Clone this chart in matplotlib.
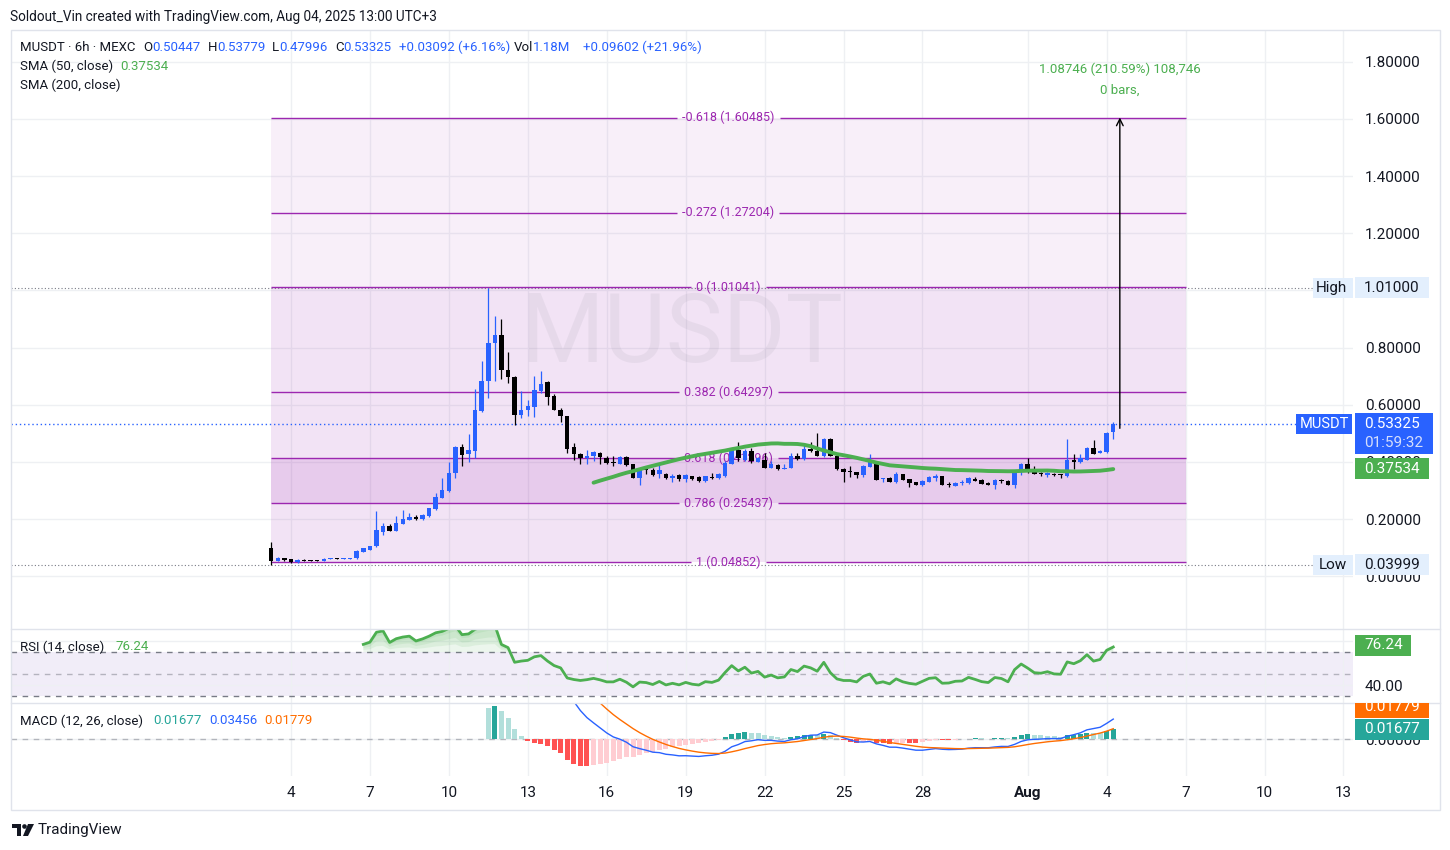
import numpy as np
import pandas as pd
import matplotlib
matplotlib.use('Agg')
import matplotlib.pyplot as plt
import matplotlib.dates as mdates
from matplotlib.ticker import FormatStrFormatter, FuncFormatter
from matplotlib.patches import Rectangle, Polygon, Circle

plt.rcParams['font.family'] = ['Roboto', 'DejaVu Sans']

W, H = 1450, 850

# MUSDT 6h candles (MEXC)
start_time = '2025-07-03 06:00'
opens = [
    0.100, 0.054, 0.062, 0.060, 0.048, 0.056, 0.055, 0.055, 0.054, 0.060,
    0.062, 0.061, 0.061, 0.062, 0.085, 0.092, 0.104, 0.155, 0.176, 0.159,
    0.184, 0.197, 0.207, 0.199, 0.211, 0.234, 0.275, 0.298, 0.360, 0.452,
    0.426, 0.438, 0.577, 0.682, 0.816, 0.845, 0.722, 0.698, 0.563, 0.581,
    0.591, 0.649, 0.678, 0.629, 0.583, 0.560, 0.451, 0.429, 0.414, 0.422,
    0.432, 0.414, 0.400, 0.393, 0.418, 0.391, 0.342, 0.376, 0.373, 0.356,
    0.356, 0.344, 0.353, 0.339, 0.349, 0.347, 0.333, 0.348, 0.342, 0.350,
    0.393, 0.441, 0.408, 0.437, 0.401, 0.405, 0.379, 0.390, 0.376, 0.379,
    0.422, 0.411, 0.446, 0.437, 0.420, 0.480, 0.420, 0.376, 0.368, 0.364,
    0.353, 0.382, 0.397, 0.341, 0.342, 0.329, 0.356, 0.339, 0.329, 0.318,
    0.330, 0.342, 0.350, 0.322, 0.315, 0.326, 0.325, 0.339, 0.335, 0.327,
    0.319, 0.335, 0.333, 0.319, 0.364, 0.391, 0.368, 0.362, 0.354, 0.359,
    0.356, 0.350, 0.408, 0.399, 0.408, 0.449, 0.432, 0.434, 0.50447,
]
highs = [
    0.118, 0.068, 0.064, 0.061, 0.060, 0.060, 0.057, 0.056, 0.062, 0.063,
    0.063, 0.063, 0.064, 0.090, 0.100, 0.106, 0.228, 0.185, 0.182, 0.211,
    0.231, 0.222, 0.213, 0.217, 0.240, 0.290, 0.342, 0.399, 0.455, 0.461,
    0.496, 0.656, 0.752, 1.010, 0.909, 0.900, 0.786, 0.700, 0.649, 0.616,
    0.702, 0.719, 0.682, 0.639, 0.590, 0.562, 0.467, 0.432, 0.443, 0.437,
    0.434, 0.420, 0.420, 0.420, 0.422, 0.392, 0.379, 0.385, 0.379, 0.391,
    0.360, 0.356, 0.356, 0.356, 0.352, 0.349, 0.352, 0.360, 0.360, 0.403,
    0.443, 0.470, 0.446, 0.449, 0.418, 0.432, 0.403, 0.392, 0.391, 0.432,
    0.432, 0.467, 0.469, 0.502, 0.484, 0.484, 0.424, 0.378, 0.385, 0.366,
    0.389, 0.426, 0.399, 0.345, 0.348, 0.364, 0.358, 0.341, 0.331, 0.338,
    0.349, 0.356, 0.352, 0.329, 0.330, 0.336, 0.348, 0.348, 0.341, 0.329,
    0.339, 0.339, 0.335, 0.368, 0.397, 0.412, 0.385, 0.365, 0.365, 0.361,
    0.358, 0.481, 0.426, 0.426, 0.453, 0.478, 0.443, 0.504, 0.53779,
]
lows = [
    0.03999, 0.052, 0.054, 0.046, 0.046, 0.053, 0.053, 0.053, 0.053, 0.059,
    0.060, 0.060, 0.060, 0.061, 0.084, 0.091, 0.102, 0.144, 0.158, 0.157,
    0.182, 0.195, 0.197, 0.197, 0.208, 0.232, 0.273, 0.296, 0.342, 0.385,
    0.399, 0.414, 0.575, 0.624, 0.682, 0.690, 0.676, 0.528, 0.552, 0.560,
    0.556, 0.641, 0.600, 0.580, 0.540, 0.432, 0.408, 0.391, 0.391, 0.403,
    0.391, 0.394, 0.385, 0.391, 0.387, 0.342, 0.318, 0.356, 0.350, 0.345,
    0.339, 0.329, 0.333, 0.329, 0.338, 0.331, 0.331, 0.341, 0.341, 0.348,
    0.391, 0.403, 0.403, 0.397, 0.399, 0.379, 0.377, 0.372, 0.375, 0.377,
    0.408, 0.408, 0.435, 0.420, 0.418, 0.420, 0.372, 0.329, 0.348, 0.342,
    0.348, 0.381, 0.336, 0.329, 0.329, 0.327, 0.335, 0.312, 0.318, 0.315,
    0.328, 0.333, 0.319, 0.313, 0.314, 0.318, 0.324, 0.332, 0.321, 0.318,
    0.304, 0.327, 0.318, 0.310, 0.353, 0.362, 0.356, 0.350, 0.348, 0.352,
    0.344, 0.348, 0.376, 0.397, 0.406, 0.428, 0.431, 0.432, 0.47996,
]
closes = [
    0.054, 0.063, 0.057, 0.048, 0.056, 0.054, 0.054, 0.054, 0.060, 0.062,
    0.061, 0.061, 0.062, 0.089, 0.097, 0.104, 0.162, 0.176, 0.159, 0.185,
    0.199, 0.207, 0.199, 0.214, 0.238, 0.278, 0.300, 0.362, 0.452, 0.424,
    0.440, 0.583, 0.684, 0.816, 0.845, 0.720, 0.696, 0.563, 0.583, 0.595,
    0.653, 0.674, 0.626, 0.583, 0.560, 0.446, 0.426, 0.414, 0.422, 0.434,
    0.418, 0.397, 0.397, 0.417, 0.389, 0.342, 0.376, 0.371, 0.353, 0.373,
    0.342, 0.352, 0.339, 0.353, 0.339, 0.333, 0.350, 0.345, 0.356, 0.397,
    0.441, 0.412, 0.437, 0.403, 0.414, 0.379, 0.391, 0.374, 0.379, 0.422,
    0.411, 0.446, 0.437, 0.420, 0.480, 0.420, 0.376, 0.364, 0.364, 0.354,
    0.385, 0.399, 0.336, 0.344, 0.329, 0.356, 0.336, 0.325, 0.319, 0.333,
    0.347, 0.350, 0.319, 0.320, 0.327, 0.328, 0.342, 0.333, 0.323, 0.319,
    0.336, 0.332, 0.319, 0.364, 0.391, 0.376, 0.358, 0.356, 0.362, 0.354,
    0.353, 0.405, 0.399, 0.414, 0.449, 0.428, 0.437, 0.50233, 0.53325,
]

# Fibonacci retracement drawing
fib_start = '2025-07-03 06:00'
fib_end = '2025-08-07 00:00'
fib_ratios = ['1', '0.786', '0.618', '0.382', '0', '-0.272', '-0.618']
fib_prices = [0.04852, 0.25437, 0.41296, 0.64297, 1.01041, 1.27204, 1.60485]

# price range measure
measure_time = '2025-08-04 12:00'
measure_from = 0.51739
measure_to = 1.60485
measure_text = '1.08746 (210.59%) 108,746'
measure_bars = '0 bars,'

# values shown in the legends / scale labels
sma50_last = 0.37534
rsi_last = 76.24
macd_hist_last = 0.01677
macd_last = 0.03456
macd_signal_last = 0.01779
countdown = '01:59:32'

price_ticks = [0.0, 0.2, 0.4, 0.6, 0.8, 1.0, 1.2, 1.4, 1.6, 1.8]
date_ticks = ['2025-07-04', '2025-07-07', '2025-07-10', '2025-07-13', '2025-07-16',
              '2025-07-19', '2025-07-22', '2025-07-25', '2025-07-28', '2025-08-01',
              '2025-08-04', '2025-08-07', '2025-08-10', '2025-08-13']
date_labels = ['4', '7', '10', '13', '16', '19', '22', '25', '28', 'Aug', '4', '7', '10', '13']

UP = '#2962ff'
DOWN = '#000000'
TXT = '#131722'
GREEN = '#4caf50'
PURPLE = '#9c27b0'
ORANGE = '#ff6d00'
TEAL = '#26a69a'

times = pd.date_range(start_time, periods=len(closes), freq='6h')
t = mdates.date2num(times)
o = np.array(opens)
h = np.array(highs)
l = np.array(lows)
c = np.array(closes)


# pine-style moving averages (seeded with an SMA)
def pine_ma(src, length, alpha):
    out = np.full(len(src), np.nan)
    first = None
    for k in range(len(src)):
        if np.isnan(src[k]):
            continue
        if first is None:
            first = k
        if k - first + 1 < length:
            continue
        if np.isnan(out[k - 1]):
            out[k] = np.mean(src[k - length + 1:k + 1])
        else:
            out[k] = alpha * src[k] + (1 - alpha) * out[k - 1]
    return out


sma50 = pd.Series(c).rolling(50).mean().values

diff = np.diff(c, prepend=np.nan)
up_move = np.where(np.isnan(diff), np.nan, np.maximum(diff, 0))
down_move = np.where(np.isnan(diff), np.nan, np.maximum(-diff, 0))
avg_up = pine_ma(up_move, 14, 1 / 14)
avg_down = pine_ma(down_move, 14, 1 / 14)
rsi = np.where(avg_down == 0, 100, 100 - 100 / (1 + avg_up / np.where(avg_down == 0, 1, avg_down)))

macd = pine_ma(c, 12, 2 / 13) - pine_ma(c, 26, 2 / 27)
signal = pine_ma(macd, 9, 2 / 10)
hist = macd - signal
hist_colors = []
for k in range(len(hist)):
    prev = hist[k - 1] if k > 0 else np.nan
    if hist[k] >= 0:
        hist_colors.append(TEAL if hist[k] > prev else '#b2dfdb')
    else:
        hist_colors.append('#ff5252' if hist[k] < prev else '#ffcdd2')

fig = plt.figure(figsize=(W / 100, H / 100), dpi=100)
fig.patch.set_facecolor('white')


def px_box(x0, y0, x1, y1):
    return [x0 / W, 1 - y1 / H, (x1 - x0) / W, (y1 - y0) / H]


ax = fig.add_axes(px_box(11, 30, 1353, 629))
ax_rsi = fig.add_axes(px_box(11, 629, 1353, 703), sharex=ax)
ax_macd = fig.add_axes(px_box(11, 703, 1353, 776), sharex=ax)

for a in (ax, ax_rsi, ax_macd):
    for s in a.spines.values():
        s.set_visible(False)
    a.set_axisbelow(True)
    a.grid(True, color='#eef0f3', lw=1)
    a.yaxis.tick_right()
    a.tick_params(length=0, labelsize=11, labelcolor=TXT, pad=8.6)

ax.set_xlim(mdates.date2num(pd.Timestamp('2025-06-23 08:40')),
            mdates.date2num(pd.Timestamp('2025-08-13 08:40')))
ax_macd.set_xticks(mdates.date2num(pd.to_datetime(date_ticks)))
ax_macd.set_xticklabels(date_labels)
ax_macd.tick_params(axis='x', pad=7.5)
for lbl in ax_macd.get_xticklabels():
    if lbl.get_text() == 'Aug':
        lbl.set_fontweight('bold')
ax.tick_params(labelbottom=False)
ax_rsi.tick_params(labelbottom=False)

# ---- price pane ----
ax.set_ylim(-0.1848, 1.911)
ax.set_yticks(price_ticks)
# the 1.00000 label sits under the "High" marker on the scale
ax.yaxis.set_major_formatter(FuncFormatter(lambda v, p: '' if abs(v - 1.0) < 1e-9 else f'{v:.5f}'))

tf0 = mdates.date2num(pd.Timestamp(fib_start))
tf1 = mdates.date2num(pd.Timestamp(fib_end))
fib_alphas = [0.125, 0.24, 0.125, 0.125, 0.07, 0.07]
for k in range(len(fib_prices) - 1):
    ax.fill_between([tf0, tf1], fib_prices[k], fib_prices[k + 1], color=PURPLE,
                    alpha=fib_alphas[k], lw=0, zorder=0.6)

# symbol watermark, baseline placed so the letters sit in the middle of the pane
ax.text(0.5, 0.4457, 'MUSDT', transform=ax.transAxes, fontsize=69, color='#787b86',
        alpha=0.09, ha='center', va='baseline', zorder=0.7)

renderer = fig.canvas.get_renderer()
tmid = (tf0 + tf1) / 2
for ratio, price in zip(fib_ratios, fib_prices):
    lab = ax.text(tmid, price, f'{ratio} ({price:.5f})', color=PURPLE, fontsize=9,
                  ha='center', va='center', zorder=2)
    bb = lab.get_window_extent(renderer)
    gx0 = ax.transData.inverted().transform((bb.x0 - 5, 0))[0]
    gx1 = ax.transData.inverted().transform((bb.x1 + 5, 0))[0]
    ax.hlines([price, price], [tf0, gx1], [gx0, tf1], color=PURPLE, lw=1, zorder=1.5)

ax.axhline(max(highs), xmax=(1313 - 11) / 1342, color='#787b86', ls=(0, (1, 2)), lw=0.8, zorder=1)
ax.axhline(min(lows), xmax=(1313 - 11) / 1342, color='#787b86', ls=(0, (1, 2)), lw=0.8, zorder=1)
ax.axhline(closes[-1], xmax=(1296 - 11) / 1342, color=UP, ls=(0, (1, 2)), lw=1, zorder=1)

cols = np.where(c >= o, UP, DOWN)
ax.vlines(t, l, h, colors=cols, lw=0.9, zorder=3)
ax.bar(t, np.maximum(np.abs(c - o), 0.0035), bottom=np.minimum(o, c), width=0.17,
       color=cols, lw=0, zorder=4)
ax.plot(t, sma50, color=GREEN, lw=2.8, zorder=5, solid_capstyle='round')

tm = mdates.date2num(pd.Timestamp(measure_time))
ax.annotate('', xy=(tm, measure_to), xytext=(tm, measure_from), zorder=6,
            arrowprops=dict(arrowstyle='->', color='black', lw=1, shrinkA=0, shrinkB=0,
                            mutation_scale=12))

# ---- RSI pane ----
ax_rsi.set_ylim(23.9, 91.2)
ax_rsi.set_yticks([40, 80])
ax_rsi.yaxis.set_major_formatter(FormatStrFormatter('%.2f'))
ax_rsi.axhspan(30, 70, color='#7e57c2', alpha=0.1, lw=0, zorder=0.5)
for lvl, al in [(70, 1.0), (50, 0.5), (30, 1.0)]:
    ax_rsi.axhline(lvl, color='#787b86', ls=(0, (4, 4)), lw=1, alpha=al, zorder=1)
ob = rsi >= 70
for f in [0.0, 0.3, 0.55, 0.8]:
    ax_rsi.fill_between(t, 70 + (rsi - 70) * f, rsi, where=ob, interpolate=True,
                        color=GREEN, alpha=0.1, lw=0, zorder=1.5)
ax_rsi.plot(t, rsi, color=GREEN, lw=2, zorder=3)

# ---- MACD pane ----
ax_macd.set_ylim(-0.064, 0.0623)
ax_macd.set_yticks([0])
ax_macd.yaxis.set_major_formatter(FormatStrFormatter('%.5f'))
ax_macd.axhline(0, color='#787b86', ls=(0, (4, 4)), lw=1, alpha=0.5, zorder=1)
ax_macd.bar(t, hist, width=0.19, color=hist_colors, lw=0, zorder=2)
ax_macd.plot(t, macd, color=UP, lw=1, zorder=3)
ax_macd.plot(t, signal, color=ORANGE, lw=1, zorder=3)

# ---- overlay in pixel coordinates ----
ov = fig.add_axes([0, 0, 1, 1], zorder=10)
ov.set_xlim(0, W)
ov.set_ylim(H, 0)
ov.axis('off')


def ypx(a, v):
    return H - a.transData.transform((0, v))[1]


def xpx(a, tv):
    return a.transData.transform((tv, 0))[0]


def run(x, y, parts, size=9.5):
    for s, col in parts:
        tx = ov.text(x, y, s, color=col, fontsize=size, ha='left', va='center')
        x += tx.get_window_extent(renderer).width


def side_label(y, text, bg, fg='white', x0=1355, w=74, hgt=21, clip=None):
    r = Rectangle((x0, y - hgt / 2), w, hgt, fc=bg, ec='none', zorder=11)
    ov.add_patch(r)
    tx = ov.text(x0 + 9, y, text, color=fg, fontsize=11, ha='left', va='center', zorder=12)
    if clip is not None:
        r.set_clip_path(clip)
        tx.set_clip_on(True)
        tx.set_clip_path(clip)


# frame and pane separators
ov.add_patch(Rectangle((11, 30), 1429, 780, fill=False, ec='#e0e3eb', lw=1))
ov.plot([11, 1440], [629, 629], color='#e0e3eb', lw=1)
ov.plot([11, 1440], [703, 703], color='#e0e3eb', lw=1)

ov.text(10, 17, 'Soldout_Vin created with TradingView.com, Aug 04, 2025 13:00 UTC+3',
        color=TXT, fontsize=9.8, va='center')

run(20, 47, [('MUSDT · 6h · MEXC', TXT)])
run(143, 47, [('O', TXT), (f'{opens[-1]:.5f}', UP)])
run(208, 47, [('H', TXT), (f'{highs[-1]:.5f}', UP)])
run(272, 47, [('L', TXT), (f'{lows[-1]:.5f}', UP)])
run(335, 47, [('C', TXT), (f'{closes[-1]:.5f}', UP)])
run(399, 47, [('+0.03092 (+6.16%)', UP)])
run(514, 47, [('Vol', TXT), ('1.18M', UP)])
run(583, 47, [('+0.09602 (+21.96%)', UP)])
run(20, 66, [('SMA (50, close)', TXT)])
run(120, 66, [(f'{sma50_last:.5f}', GREEN)])
run(20, 85, [('SMA (200, close)', TXT)])
run(20, 647, [('RSI (14, close)', TXT)])
run(115, 647, [(f'{rsi_last:.2f}', GREEN)])
run(20, 721, [('MACD (12, 26, close)', TXT)])
run(153, 721, [(f'{macd_hist_last:.5f}', TEAL)])
run(209, 721, [(f'{macd_last:.5f}', UP)])
run(264, 721, [(f'{macd_signal_last:.5f}', ORANGE)])

# measure label
mx = xpx(ax, tm)
my = ypx(ax, measure_to)
ov.text(mx, my - 48, measure_text, color=GREEN, fontsize=9.5, ha='center', va='center')
ov.text(mx, my - 27, measure_bars, color=GREEN, fontsize=9.5, ha='center', va='center')

# price scale labels
yh = ypx(ax, max(highs))
ov.add_patch(Rectangle((1313, yh - 10), 40, 20, fc='#e3effd', ec='none', zorder=11))
ov.text(1316, yh, 'High', color=TXT, fontsize=11, va='center', zorder=12)
side_label(yh, f'{max(highs):.5f}', '#e3effd', fg=TXT)
ylo = ypx(ax, min(lows))
ov.add_patch(Rectangle((1313, ylo - 10), 40, 20, fc='#e3effd', ec='none', zorder=11))
ov.text(1319, ylo, 'Low', color=TXT, fontsize=11, va='center', zorder=12)
side_label(ylo, f'{min(lows):.5f}', '#e3effd', fg=TXT)

yp = ypx(ax, closes[-1])
ov.add_patch(Rectangle((1296, yp - 10), 56, 20, fc=UP, ec='none', zorder=11))
ov.text(1324, yp, 'MUSDT', color='white', fontsize=10.5, ha='center', va='center', zorder=12)
ov.add_patch(Rectangle((1355, yp - 11), 78, 41, fc=UP, ec='none', zorder=11))
ov.text(1364, yp, f'{closes[-1]:.5f}', color='white', fontsize=11, va='center', zorder=12)
ov.text(1364, yp + 19, countdown, color='#d5defc', fontsize=11, va='center', zorder=12)

side_label(ypx(ax, sma50_last), f'{sma50_last:.5f}', GREEN)
side_label(ypx(ax_rsi, rsi_last), f'{rsi_last:.2f}', GREEN, w=56)

yhist = ypx(ax_macd, macd_hist_last)
side_label(yhist, f'{macd_hist_last:.5f}', TEAL)
macd_clip = Rectangle((1353, 703), 90, 73, transform=ov.transData)
side_label(yhist - 22, f'{macd_signal_last:.5f}', ORANGE, clip=macd_clip)

# TradingView logo
ov.add_patch(Polygon([(12, 824), (21, 824), (21, 836), (17, 836), (17, 828), (12, 828)],
                     closed=True, fc=TXT, ec='none'))
ov.add_patch(Circle((24.5, 826.5), 2.3, fc=TXT, ec='none'))
ov.add_patch(Polygon([(28, 824), (34, 824), (28, 836), (23, 836)], closed=True, fc=TXT, ec='none'))
ov.text(38, 830, 'TradingView', color=TXT, fontsize=11, va='center')

fig.savefig('out.png', dpi=100, facecolor='white')
